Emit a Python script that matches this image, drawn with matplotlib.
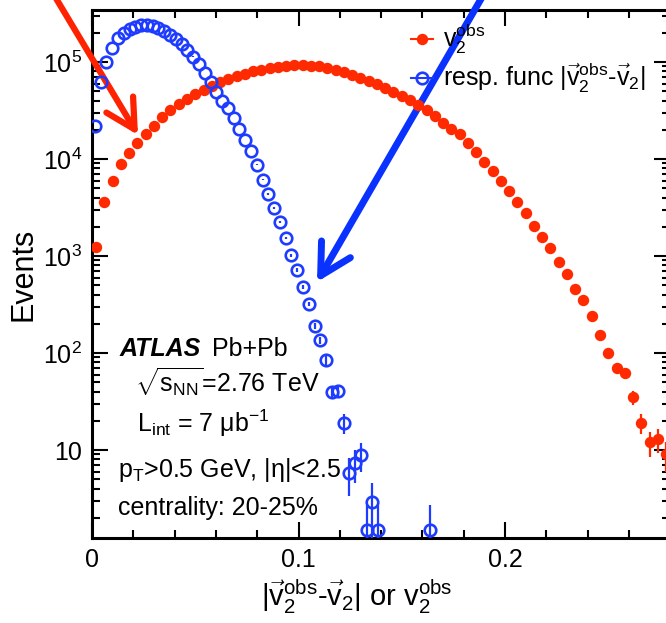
import numpy as np
import matplotlib
matplotlib.use('Agg')
import matplotlib.pyplot as plt
from matplotlib.lines import Line2D
from matplotlib.ticker import MultipleLocator, LogLocator, FuncFormatter, NullFormatter

plt.rcParams['font.family'] = ['Liberation Sans', 'DejaVu Sans']
plt.rcParams['mathtext.fontset'] = 'custom'
plt.rcParams['mathtext.rm'] = 'Liberation Sans'
plt.rcParams['mathtext.it'] = 'Liberation Sans:italic'
plt.rcParams['mathtext.bf'] = 'Liberation Sans:bold'

# v2obs histogram: 70 bins of 0.004 between 0 and 0.28
v2obs_width = 0.004
v2obs_counts = [1250, 3600, 6000, 8900, 11500, 14600, 18000, 22000, 27000, 32000,
                37000, 42000, 47000, 52000, 57000, 62000, 67000, 72000, 76000, 80000,
                83000, 86500, 89000, 91000, 92500, 93000, 92000, 90000, 87000, 83500,
                79000, 74000, 69000, 64000, 59000, 54000, 49500, 45000, 41000, 36500,
                32000, 27500, 23500, 20500, 18000, 14500, 11800, 9300, 7500, 5900,
                4700, 3600, 2800, 2050, 1580, 1220, 870, 660, 460, 355,
                240, 155, 100, 70, 62, 35, 19, 12, 13, 9]

# response function |v2obs - v2|: bins of 0.0028, empty bins are 0
resp_width = 0.0028
resp_counts = [21900, 62000, 100000, 139000, 177000, 199000, 219000, 229000, 240000, 240000,
               235000, 224000, 209000, 190000, 172000, 153000, 134000, 114000, 95000, 77000,
               62000, 49000, 39600, 33600, 26500, 20400, 15700, 12100, 8700, 6100,
               4370, 3130, 2240, 1530, 1020, 718, 480, 320, 190, 136,
               85, 39.6, 40.6, 19, 5.8, 7.3, 8.9, 1.5, 2.9, 1.5,
               0, 0, 0, 0, 0, 0, 0, 0, 1.5]

red = '#ff2a00'
blue = '#1e3cff'

v2obs_counts = np.array(v2obs_counts, dtype=float)
v2obs_x = (np.arange(len(v2obs_counts)) + 0.5) * v2obs_width
resp_counts = np.array(resp_counts, dtype=float)
resp_x = (np.arange(len(resp_counts)) + 0.5) * resp_width
filled = resp_counts > 0

fig = plt.figure(figsize=(6.66, 6.23), dpi=100)
ax = fig.add_axes([92 / 666, 85 / 623, 578.2 / 666, 528 / 623])

ax.errorbar(v2obs_x, v2obs_counts, yerr=np.sqrt(v2obs_counts), fmt='o', color=red,
            ms=8.2, mew=0, elinewidth=1.6, capsize=0, zorder=3)
ax.errorbar(resp_x[filled], resp_counts[filled], yerr=np.sqrt(resp_counts[filled]), fmt='o',
            color=blue, mfc='none', mec=blue, ms=8.3, mew=1.9, elinewidth=1.6, capsize=0, zorder=4)

ax.set_yscale('log')
ax.set_xlim(0, 0.28)
ax.set_ylim(1.24, 3.44e5)

ax.xaxis.set_major_locator(MultipleLocator(0.1))
ax.xaxis.set_minor_locator(MultipleLocator(0.02))
ax.xaxis.set_major_formatter(FuncFormatter(lambda v, p: '0' if abs(v) < 1e-9 else '%g' % v))
ax.yaxis.set_major_locator(LogLocator(base=10, numticks=10))
ax.yaxis.set_minor_locator(LogLocator(base=10, subs=np.arange(2, 10), numticks=20))
ax.yaxis.set_minor_formatter(NullFormatter())
ax.yaxis.set_major_formatter(FuncFormatter(
    lambda v, p: '10' if abs(v - 10) < 1e-6 else r'$10^{%d}$' % round(np.log10(v))))

ax.tick_params(which='both', direction='in', top=True, right=True, width=1.5,
               colors='black', labelsize=18)
ax.tick_params(which='major', length=11.5, pad=7)
ax.tick_params(which='minor', length=5.8)
for s in ax.spines.values():
    s.set_linewidth(2.2)

ax.set_ylabel('Events', fontsize=22, labelpad=3)
ax.set_xlabel(r'$|\vec{\mathrm{v}}_2^{\mathrm{obs}}$-$\vec{\mathrm{v}}_2|$ or v$_2^{\mathrm{obs}}$',
              fontsize=21, labelpad=4, x=0.458)

# legend
handles = [Line2D([], [], color=red, marker='o', ms=8.2, mew=0, lw=1.5),
           Line2D([], [], color=blue, marker='o', mfc='none', mec=blue, ms=8.3, mew=1.9, lw=1.5)]
ax.legend(handles, [r'v$_2^{\mathrm{obs}}$',
                    r'resp. func $|\vec{\mathrm{v}}_2^{\mathrm{obs}}$-$\vec{\mathrm{v}}_2|$'],
          loc='upper left', bbox_to_anchor=(0.521, 1.01), frameon=False, fontsize=18,
          handlelength=0.9, handletextpad=0.4, labelspacing=0.2, borderaxespad=0.3)

# ATLAS labels
ax.text(0.048, 0.345, 'ATLAS', transform=ax.transAxes, fontsize=18,
        fontweight='bold', fontstyle='italic')
ax.text(0.208, 0.345, 'Pb+Pb', transform=ax.transAxes, fontsize=18)
ax.text(0.074, 0.275, r'$\sqrt{\mathrm{s}_{\mathrm{NN}}}$=2.76 TeV', transform=ax.transAxes, fontsize=18)
ax.text(0.078, 0.201, r'L$_{\mathrm{int}}$ = 7 μb$^{-1}$', transform=ax.transAxes, fontsize=18)
ax.text(0.045, 0.115, r'p$_{\mathrm{T}}$>0.5 GeV, |η|<2.5', transform=ax.transAxes, fontsize=18)
ax.text(0.045, 0.044, 'centrality: 20-25%', transform=ax.transAxes, fontsize=18)

# hand-drawn arrows (figure pixels, origin bottom left)
ax.annotate('', xy=(138, 623 - 135), xytext=(45, 623 + 20), xycoords='figure pixels',
            textcoords='figure pixels', annotation_clip=False,
            arrowprops=dict(arrowstyle='->,head_length=1.04,head_width=0.56', lw=4.5,
                            color='#ff2200', mutation_scale=20, shrinkA=0, shrinkB=0))
ax.annotate('', xy=(317, 623 - 282), xytext=(492, 623 + 20), xycoords='figure pixels',
            textcoords='figure pixels', annotation_clip=False,
            arrowprops=dict(arrowstyle='->,head_length=1.1,head_width=0.6', lw=5,
                            color='#0a32ff', mutation_scale=20, shrinkA=0, shrinkB=0))

fig.savefig('out.png', dpi=100)
